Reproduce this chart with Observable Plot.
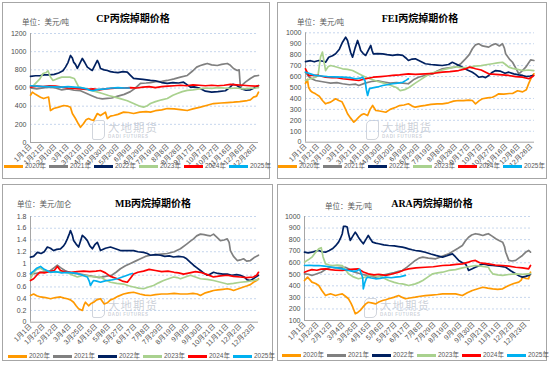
<!DOCTYPE html>
<html><head><meta charset="utf-8">
<script src="https://cdn.jsdelivr.net/npm/d3@7"></script>
<script src="https://cdn.jsdelivr.net/npm/@observablehq/plot@0.6"></script>
<style>
body{margin:0;width:550px;height:365px;background:#fff;position:relative;overflow:hidden;font-family:"Liberation Sans","Noto Sans CJK SC",sans-serif;}
.panel{position:absolute;border:1px solid #a6a6a6;box-sizing:border-box;}
.abs{position:absolute;white-space:nowrap;line-height:1;}
.title{font-family:"Liberation Serif","Noto Sans CJK SC",serif;font-weight:bold;font-size:10px;color:#000;transform:translateX(-50%);}
.unit{font-size:7.5px;color:#595959;}
.unitSerif{font-family:"Liberation Serif","Noto Sans CJK SC",serif;}
.lg{font-size:6.5px;color:#595959;display:flex;align-items:center;}
.lg i{display:inline-block;width:19px;height:2.8px;margin-right:2px;}
.wm{color:rgba(140,150,168,0.45);font-family:"Noto Sans CJK SC",sans-serif;}
.svgbox{position:absolute;}
</style></head><body>
<script>
// ---------- data ----------
const years = ["2020年","2021年","2022年","2023年","2024年","2025年"];
const colors = ["#ff9900","#808080","#002060","#a9d18e","#ff0000","#00b0f0"];

const labels20 = ["1月1日","1月21日","2月10日","3月1日","3月21日","4月10日","4月30日","5月20日","6月9日","6月29日","7月19日","8月8日","8月28日","9月17日","10月7日","10月27日","11月16日","12月6日","12月26日"];
const labels21 = ["1月1日","1月22日","2月12日","3月4日","3月25日","4月15日","5月6日","5月27日","6月17日","7月8日","7月29日","8月19日","9月9日","9月30日","10月21日","11月11日","12月2日","12月23日"];

// CP (USD/t) [day of year, value]
const cp2020 = [[0,520],[3,554],[8,530],[16,499],[21,484],[26,495],[29,499],[32,352],[37,374],[45,389],[53,407],[60,400],[64,389],[67,319],[72,264],[77,200],[80,168],[85,209],[89,250],[93,264],[97,250],[101,242],[107,319],[112,297],[117,320],[120,334],[123,264],[128,290],[133,297],[140,310],[149,334],[157,330],[165,319],[175,335],[185,340],[192,334],[200,350],[210,360],[219,374],[230,370],[240,362],[251,352],[260,370],[272,389],[283,410],[293,429],[305,435],[315,440],[325,444],[335,450],[347,462],[352,470],[357,499],[362,510],[365,554]];
const cp2021 = [[0,600],[10,590],[20,600],[30,610],[40,600],[50,580],[60,590],[70,575],[80,570],[90,540],[100,510],[107,490],[115,480],[123,485],[130,490],[140,510],[150,530],[160,560],[168,600],[176,650],[185,655],[192,660],[200,670],[210,672],[219,683],[230,700],[240,720],[251,738],[260,790],[266,830],[272,848],[278,860],[283,870],[290,855],[299,848],[306,860],[315,870],[320,850],[325,815],[331,793],[334,800],[336,606],[340,640],[344,664],[352,705],[358,730],[365,738]];
const cp2022 = [[0,727],[8,735],[15,735],[22,745],[30,745],[38,750],[45,765],[48,775],[52,790],[56,830],[60,880],[64,958],[67,930],[69,885],[72,860],[75,815],[79,870],[83,925],[87,880],[91,830],[95,810],[99,793],[103,850],[107,903],[110,860],[112,815],[118,800],[123,793],[128,780],[133,775],[140,770],[148,780],[155,775],[160,740],[165,705],[172,700],[180,695],[192,683],[200,680],[210,660],[219,650],[228,660],[237,655],[245,664],[250,640],[256,609],[262,612],[270,600],[280,565],[290,555],[300,560],[312,570],[318,600],[324,640],[330,630],[338,590],[345,575],[352,580],[358,600],[365,627]];
const cp2023 = [[0,620],[5,628],[15,700],[20,760],[25,770],[28,790],[32,720],[36,683],[42,700],[50,720],[57,720],[63,720],[70,705],[75,640],[77,609],[85,600],[95,575],[105,560],[115,540],[125,518],[135,500],[145,480],[155,460],[165,430],[175,400],[181,389],[187,405],[192,429],[200,450],[210,470],[219,484],[228,520],[235,540],[243,560],[251,573],[260,580],[270,590],[280,600],[290,595],[300,605],[310,600],[320,595],[330,600],[340,590],[350,595],[360,600],[365,605]];
const cp2024 = [[0,610],[10,620],[20,615],[30,625],[40,620],[50,610],[60,600],[70,595],[80,590],[90,585],[100,590],[110,580],[120,590],[130,595],[140,600],[150,600],[160,605],[170,600],[180,610],[190,615],[200,605],[210,615],[220,620],[230,625],[240,630],[250,625],[260,635],[270,630],[280,625],[290,630],[300,625],[310,630],[320,640],[330,635],[340,630],[350,625],[360,620],[365,625]];
const cp2025 = [[0,625],[10,620],[20,615],[30,615],[40,612],[50,610],[60,615],[70,610],[80,605],[90,590],[95,575],[100,570],[105,580],[110,585],[120,590],[130,600],[140,605],[150,600],[158,600]];

// FEI (USD/t)
const fei2020 = [[0,537],[3,575],[5,500],[8,470],[11,457],[16,442],[22,420],[27,381],[32,351],[36,360],[40,366],[48,397],[53,381],[58,370],[61,336],[64,300],[67,260],[72,220],[77,183],[81,205],[85,229],[89,250],[93,260],[99,244],[103,300],[107,336],[112,290],[118,285],[128,274],[135,300],[144,320],[150,335],[157,340],[164,351],[170,330],[175,320],[183,330],[191,336],[200,345],[210,350],[218,351],[228,360],[236,375],[244,381],[252,380],[260,385],[266,381],[271,351],[277,380],[282,397],[290,405],[298,411],[303,425],[308,442],[316,440],[325,445],[330,445],[338,470],[346,460],[352,480],[356,540],[360,590],[364,625]];
const fei2021 = [[0,640],[5,600],[10,580],[16,564],[25,555],[32,548],[40,540],[50,545],[59,534],[70,525],[80,530],[85,518],[95,540],[105,555],[115,560],[125,550],[135,540],[145,545],[155,540],[164,534],[172,570],[180,594],[190,610],[203,625],[210,650],[218,671],[228,680],[239,686],[248,720],[255,762],[261,800],[266,854],[271,890],[276,900],[282,880],[292,869],[298,890],[303,900],[309,880],[314,900],[317,860],[319,808],[325,760],[330,731],[335,680],[340,625],[345,650],[351,686],[355,720],[359,753],[364,747]];
const fei2022 = [[0,737],[8,745],[14,735],[21,747],[28,740],[32,731],[37,777],[43,790],[48,808],[54,850],[59,914],[64,960],[67,930],[69,884],[72,820],[75,777],[79,860],[83,930],[86,880],[88,838],[92,810],[96,793],[100,840],[104,884],[106,840],[108,808],[115,810],[123,808],[130,800],[139,793],[147,800],[155,793],[160,770],[164,747],[170,760],[175,762],[183,740],[191,717],[200,710],[210,705],[218,701],[228,710],[234,730],[239,717],[245,700],[250,686],[258,660],[266,640],[271,620],[276,594],[282,600],[287,590],[292,610],[298,640],[303,655],[310,650],[318,630],[324,640],[332,625],[340,615],[346,610],[352,600],[358,605],[362,610]];
const fei2023 = [[0,564],[8,580],[16,594],[20,610],[24,780],[27,823],[30,720],[32,655],[36,690],[40,701],[48,690],[59,671],[67,665],[75,655],[85,625],[96,594],[105,575],[115,555],[125,540],[135,520],[145,500],[151,472],[158,480],[165,500],[175,540],[183,570],[191,600],[200,630],[210,645],[218,660],[228,675],[239,690],[250,680],[260,685],[270,695],[280,700],[290,710],[298,717],[306,725],[314,731],[319,710],[324,686],[330,675],[338,665],[346,655],[355,660],[364,655]];
const fei2024 = [[0,671],[5,610],[12,612],[21,610],[32,594],[42,590],[50,590],[59,580],[70,575],[85,564],[96,580],[108,594],[120,600],[130,605],[139,610],[150,615],[164,625],[175,620],[191,625],[205,630],[218,640],[230,645],[244,655],[255,670],[261,686],[266,680],[271,671],[280,660],[292,625],[303,620],[314,615],[324,610],[335,600],[346,594],[356,580],[362,600],[364,610]];
const fei2025 = [[0,640],[8,625],[16,610],[25,605],[35,600],[45,598],[59,594],[70,590],[80,580],[87,585],[91,594],[95,560],[97,480],[99,427],[102,490],[107,497],[115,505],[123,518],[130,525],[139,534],[147,540],[155,548],[160,565],[164,580]];

// MB (USD/gal)
const mb2020 = [[0,0.455],[5,0.48],[10,0.45],[16,0.43],[24,0.42],[32,0.40],[40,0.42],[48,0.43],[54,0.41],[59,0.40],[64,0.38],[69,0.34],[73,0.28],[77,0.23],[83,0.20],[86,0.30],[88,0.34],[93,0.28],[97,0.32],[101,0.34],[106,0.38],[112,0.40],[118,0.31],[123,0.33],[128,0.38],[133,0.40],[140,0.44],[149,0.48],[157,0.50],[165,0.51],[175,0.48],[183,0.46],[192,0.455],[200,0.47],[210,0.48],[219,0.48],[230,0.49],[240,0.48],[251,0.48],[260,0.49],[267,0.48],[272,0.455],[280,0.50],[287,0.52],[293,0.54],[300,0.55],[308,0.56],[315,0.57],[320,0.56],[325,0.54],[333,0.57],[341,0.60],[347,0.62],[352,0.64],[357,0.68],[362,0.71],[365,0.74]];
const mb2021 = [[0,0.82],[8,0.83],[16,0.85],[25,0.86],[32,0.88],[38,0.93],[43,0.97],[48,0.93],[55,0.88],[62,0.85],[70,0.83],[80,0.82],[90,0.80],[100,0.78],[110,0.76],[120,0.78],[130,0.80],[137,0.85],[144,0.91],[152,0.96],[160,1.0],[168,1.04],[176,1.08],[184,1.12],[192,1.14],[200,1.15],[210,1.16],[219,1.17],[230,1.20],[240,1.25],[250,1.33],[256,1.38],[261,1.42],[266,1.47],[272,1.50],[278,1.49],[283,1.48],[288,1.47],[293,1.50],[299,1.44],[304,1.39],[310,1.40],[315,1.42],[318,1.36],[320,1.22],[325,1.12],[331,1.05],[336,1.06],[341,1.08],[346,1.04],[352,1.05],[358,1.10],[365,1.14]];
const mb2022 = [[0,1.107],[5,1.12],[11,1.19],[17,1.17],[22,1.20],[27,1.28],[32,1.26],[37,1.22],[42,1.24],[48,1.25],[53,1.30],[56,1.35],[59,1.42],[62,1.50],[64,1.56],[67,1.48],[69,1.39],[73,1.33],[77,1.28],[80,1.38],[83,1.48],[87,1.44],[91,1.39],[95,1.30],[99,1.25],[103,1.32],[107,1.36],[110,1.28],[112,1.22],[120,1.26],[128,1.28],[136,1.25],[144,1.22],[155,1.22],[165,1.22],[172,1.20],[181,1.19],[187,1.17],[192,1.14],[200,1.15],[208,1.14],[215,1.12],[222,1.13],[229,1.11],[237,1.12],[245,1.11],[250,1.08],[256,1.02],[261,0.97],[266,0.93],[272,0.88],[277,0.84],[283,0.80],[288,0.82],[293,0.85],[300,0.83],[308,0.82],[315,0.82],[322,0.80],[330,0.81],[336,0.80],[342,0.77],[347,0.72],[352,0.71],[358,0.75],[365,0.80]];
const mb2023 = [[0,0.74],[5,0.85],[10,0.90],[16,0.92],[22,0.88],[30,0.86],[40,0.85],[50,0.86],[60,0.84],[68,0.80],[75,0.77],[85,0.80],[95,0.78],[105,0.77],[112,0.77],[120,0.72],[128,0.68],[138,0.66],[149,0.65],[157,0.62],[165,0.60],[173,0.58],[181,0.57],[189,0.60],[197,0.625],[205,0.67],[213,0.71],[221,0.74],[229,0.77],[235,0.76],[240,0.74],[248,0.77],[256,0.80],[264,0.77],[272,0.74],[283,0.73],[293,0.71],[304,0.68],[315,0.65],[325,0.66],[336,0.68],[346,0.69],[357,0.71],[365,0.73]];
const mb2024 = [[0,0.71],[5,0.74],[10,0.80],[15,0.85],[22,0.84],[30,0.86],[38,0.88],[43,0.95],[48,0.88],[55,0.86],[65,0.85],[75,0.86],[85,0.87],[95,0.86],[105,0.87],[112,0.88],[120,0.84],[128,0.78],[139,0.74],[147,0.70],[155,0.68],[160,0.75],[165,0.82],[172,0.85],[181,0.87],[190,0.90],[200,0.88],[210,0.86],[220,0.87],[230,0.85],[237,0.84],[245,0.82],[255,0.84],[264,0.86],[272,0.85],[283,0.81],[293,0.77],[304,0.79],[315,0.80],[325,0.78],[336,0.77],[346,0.76],[357,0.77],[362,0.80],[365,0.85]];
const mb2025 = [[0,0.83],[5,0.87],[10,0.92],[16,0.95],[22,0.90],[28,0.87],[32,0.85],[40,0.86],[50,0.84],[59,0.85],[67,0.84],[75,0.83],[83,0.80],[91,0.77],[94,0.70],[96,0.625],[99,0.68],[101,0.71],[106,0.70],[112,0.68],[118,0.70],[123,0.71],[130,0.72],[139,0.74],[147,0.77],[155,0.80],[160,0.82],[163,0.83]];

// ARA (USD/t)
const ara2020 = [[0,446],[5,475],[12,432],[18,420],[23,403],[28,360],[34,316],[38,325],[42,331],[50,316],[56,325],[61,331],[66,310],[71,288],[75,250],[78,215],[82,158],[86,170],[90,187],[95,220],[99,244],[103,258],[110,250],[115,244],[120,260],[126,273],[131,280],[136,288],[144,300],[152,316],[158,300],[163,288],[170,295],[179,302],[187,310],[195,316],[205,320],[215,325],[223,331],[235,330],[244,331],[255,316],[263,340],[271,360],[280,375],[288,388],[296,380],[304,374],[312,370],[320,374],[325,390],[330,403],[338,420],[346,432],[350,450],[352,475],[357,465],[362,461],[365,518]];
const ara2021 = [[0,504],[6,500],[12,490],[20,505],[27,518],[35,545],[42,561],[50,555],[58,560],[66,561],[71,547],[80,520],[90,505],[97,495],[103,490],[110,480],[115,475],[120,482],[126,490],[131,498],[136,504],[145,515],[152,525],[158,533],[165,560],[172,590],[179,620],[185,640],[191,648],[200,640],[212,634],[222,655],[233,677],[240,700],[248,725],[255,749],[260,790],[265,821],[270,840],[276,851],[282,845],[288,836],[293,845],[297,851],[303,830],[309,807],[315,790],[320,778],[323,740],[325,691],[330,620],[335,615],[341,620],[346,640],[352,663],[357,690],[362,706],[365,691]];
const ara2022 = [[0,691],[6,685],[12,691],[18,700],[23,706],[28,695],[34,691],[40,705],[45,720],[50,745],[55,778],[58,810],[61,851],[63,914],[66,915],[69,908],[71,850],[74,793],[78,830],[82,865],[85,840],[87,821],[91,790],[95,764],[99,800],[103,836],[106,810],[110,778],[115,770],[120,764],[128,755],[136,749],[145,745],[152,740],[158,735],[163,728],[168,720],[174,712],[179,706],[187,700],[195,691],[204,675],[212,663],[218,655],[223,648],[230,660],[235,670],[239,677],[244,650],[249,620],[255,600],[260,590],[263,560],[265,533],[270,545],[276,561],[282,575],[288,590],[296,580],[304,576],[315,570],[325,561],[333,530],[341,504],[347,485],[352,475],[357,482],[362,490],[365,500]];
const ara2023 = [[0,605],[6,625],[12,648],[18,690],[23,720],[27,730],[30,650],[34,590],[40,580],[45,576],[53,580],[61,576],[66,540],[71,504],[78,480],[87,461],[95,470],[103,485],[110,490],[118,482],[126,475],[131,460],[136,446],[145,430],[152,420],[158,417],[163,410],[168,403],[174,410],[179,417],[185,430],[191,446],[199,475],[207,504],[215,512],[223,518],[233,533],[244,540],[255,555],[265,565],[276,576],[285,570],[297,561],[300,530],[304,504],[312,495],[320,490],[330,498],[341,504],[352,500],[362,504],[365,505]];
const ara2024 = [[0,518],[6,530],[12,540],[20,535],[27,545],[34,547],[42,540],[50,535],[61,533],[70,540],[80,545],[87,547],[95,520],[103,504],[112,495],[120,500],[131,490],[140,500],[152,518],[160,535],[168,547],[180,555],[195,561],[208,565],[223,576],[235,580],[245,585],[255,590],[265,605],[270,615],[276,620],[283,600],[290,595],[297,590],[308,580],[320,576],[330,570],[341,561],[352,555],[362,547],[365,576]];
const ara2025 = [[0,576],[8,578],[15,575],[23,576],[32,570],[40,565],[45,561],[53,555],[61,547],[66,540],[71,533],[78,525],[85,530],[89,545],[92,500],[94,470],[95,374],[97,420],[100,465],[102,475],[108,468],[115,461],[122,465],[131,475],[140,470],[147,475],[155,480],[163,490]];

const cpTicks = [0,200,400,600,800,1000,1200];
const feiTicks = [0,100,200,300,400,500,600,700,800,900,1000];
const mbTicks = [0,0.2,0.4,0.6,0.8,1,1.2,1.4,1.6,1.8];
const araTicks = [100,200,300,400,500,600,700,800,900,1000];

// ---------- layout ----------
const panels = [
  {title:"CP丙烷掉期价格", unit:"单位：美元/吨", box:[2,2,268,177], plot:[30,258,33,142], titleX:133, titleY:14, unitX:22, unitY:19, serifUnit:false,
   series:[cp2020,cp2021,cp2022,cp2023,cp2024,cp2025], yTicks:cpTicks, yDomain:[0,1200], labels:labels20, step:20, legendX:4, legendY:163, wm:[92,120]},
  {title:"FEI丙烷掉期价格", unit:"单位：美元/吨", box:[277,2,270,177], plot:[305,534,32.3,141.7], titleX:420, titleY:14, unitX:297, unitY:19, serifUnit:false,
   series:[fei2020,fei2021,fei2022,fei2023,fei2024,fei2025], yTicks:feiTicks, yDomain:[0,1000], labels:labels20, step:20, legendX:278, legendY:163, wm:[366,120]},
  {title:"MB丙烷掉期价格", unit:"单位：美元/加仑", box:[2,184,271,177], plot:[30,258,216,321.7], titleX:153, titleY:199, unitX:17, unitY:201, serifUnit:false,
   series:[mb2020,mb2021,mb2022,mb2023,mb2024,mb2025], yTicks:mbTicks, yDomain:[0,1.8], labels:labels21, step:21, legendX:8, legendY:353, wm:[92,298]},
  {title:"ARA丙烷掉期价格", unit:"单位：美元/吨", box:[277,184,270,177], plot:[304,530,216,320], titleX:432, titleY:199, unitX:325, unitY:203, serifUnit:true,
   series:[ara2020,ara2021,ara2022,ara2023,ara2024,ara2025], yTicks:araTicks, yDomain:[100,1000], labels:labels21, step:21, legendX:282, legendY:352, wm:[364,298]}
];

function el(tag, cls, style, text) {
  const e = document.createElement(tag);
  if (cls) e.className = cls;
  Object.assign(e.style, style || {});
  if (text != null) e.textContent = text;
  document.body.appendChild(e);
  return e;
}

panels.forEach(p => {
  const [bx, by, bw, bh] = p.box;
  const [px0, px1, py0, py1] = p.plot;
  el("div", "panel", {left: bx + "px", top: by + "px", width: bw + "px", height: bh + "px"});

  // watermark
  const [wx, wy] = p.wm;
  el("div", "abs", {left: wx + "px", top: wy + "px", width: "11px", height: "18px", border: "1.5px solid rgba(140,150,168,0.4)", borderRadius: "5px 2px 5px 2px"});
  el("div", "abs wm", {left: (wx + 16) + "px", top: (wy + 2) + "px", fontSize: "11.5px", letterSpacing: "1px"}, "大地期货");
  el("div", "abs wm", {left: (wx + 16) + "px", top: (wy + 15) + "px", fontSize: "4.5px", letterSpacing: "0.6px", fontFamily: "Liberation Sans,sans-serif", fontWeight: "bold"}, "DADI FUTURES");

  const tickDays = p.labels.map((_, i) => i * p.step);
  const labelOf = new Map(tickDays.map((d, i) => [d, p.labels[i]]));
  const grid = p.yTicks.filter(t => t > p.yDomain[0]);

  const marks = [
    Plot.ruleY(grid, {stroke: "#b7cbe8", strokeWidth: 0.8, strokeDasharray: "2,2"}),
    Plot.ruleX([0], {stroke: "#a6a6a6", strokeWidth: 1}),
    Plot.ruleY([p.yDomain[0]], {stroke: "#a6a6a6", strokeWidth: 1})
  ];
  p.series.forEach((s, i) => {
    marks.push(Plot.line(s, {x: d => d[0], y: d => d[1], stroke: colors[i], strokeWidth: 1.7, strokeLinejoin: "round"}));
  });

  const chart = Plot.plot({
    width: bw, height: bh,
    marginLeft: px0 - bx, marginRight: bw - (px1 - bx),
    marginTop: py0 - by, marginBottom: bh - (py1 - by),
    style: {background: "transparent", fontFamily: "Liberation Sans, Noto Sans CJK SC, sans-serif", fontSize: "7px", color: "#4d4d4d", overflow: "visible"},
    x: {domain: [0, 365], ticks: tickDays, tickFormat: d => labelOf.get(d), tickRotate: -45, tickSize: 0, tickPadding: 3, label: null},
    y: {domain: p.yDomain, ticks: p.yTicks, tickFormat: d => String(d), tickSize: 0, tickPadding: 4, label: null},
    marks
  });
  const holder = el("div", "svgbox", {left: bx + "px", top: by + "px", width: bw + "px", height: bh + "px"});
  holder.appendChild(chart);

  el("div", "abs title", {left: p.titleX + "px", top: p.titleY + "px"}, p.title);
  el("div", "abs unit" + (p.serifUnit ? " unitSerif" : ""), {left: p.unitX + "px", top: p.unitY + "px"}, p.unit);

  years.forEach((yr, i) => {
    const item = el("div", "abs lg", {left: (p.legendX + i * 45) + "px", top: p.legendY + "px"});
    const sw = document.createElement("i");
    sw.style.background = colors[i];
    item.appendChild(sw);
    const t = document.createElement("span");
    t.textContent = yr;
    item.appendChild(t);
  });
});
</script>
</body></html>
